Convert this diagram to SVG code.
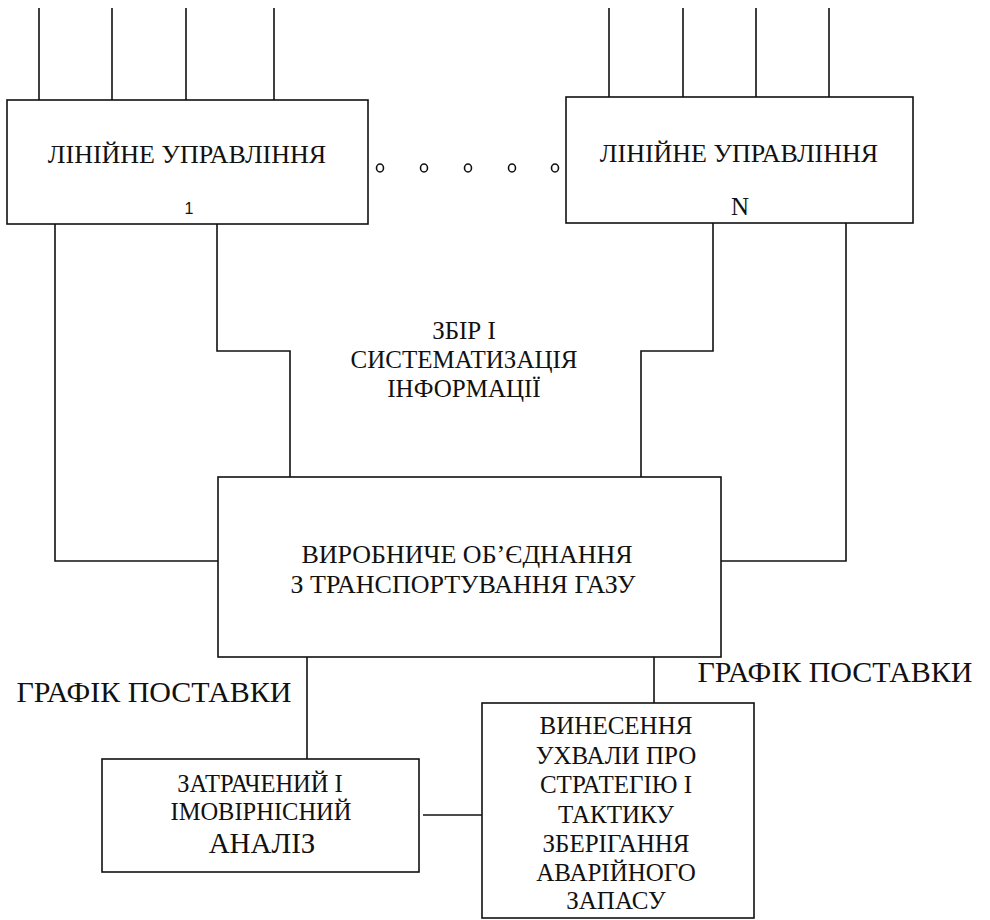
<svg xmlns="http://www.w3.org/2000/svg" width="990" height="920" viewBox="0 0 990 920">
  <style>
    .box { fill: #fff; stroke: #111; stroke-width: 1.6; }
    .wire { fill: none; stroke: #111; stroke-width: 1.6; }
    .dot { fill: none; stroke: #111; stroke-width: 1.6; }
    text { font-family: "Liberation Serif", "Times New Roman", serif; fill: #111; text-anchor: middle; }
    .t26 { font-size: 26px; }
    .t25 { font-size: 25px; }
    .t24 { font-size: 24.5px; }
    .t29 { font-size: 29px; }
    .t30 { font-size: 30px; }
    .num { font-family: "Liberation Sans", Arial, sans-serif; font-size: 16px; }
  </style>

  <!-- connectors -->
  <g id="connectors">
    <!-- inputs into the line administrations -->
    <path class="wire" d="M39 8V100 M112 8V100 M186 8V100 M274 8V100"/>
    <path class="wire" d="M609 8V97 M683 8V97 M756 8V97 M829 8V97"/>
    <!-- line administration 1 to the production association -->
    <path class="wire" d="M55 224V561H218"/>
    <path class="wire" d="M217 224V351H290V477"/>
    <!-- line administration N to the production association -->
    <path class="wire" d="M713 223V351H641V477"/>
    <path class="wire" d="M846 223V561H721"/>
    <!-- downstream -->
    <path class="wire" d="M307 657V759"/>
    <path class="wire" d="M654 657V703"/>
    <path class="wire" d="M423 815H482"/>
  </g>

  <!-- ellipsis between administrations -->
  <g id="ellipsis">
    <ellipse class="dot" cx="380" cy="168" rx="3.5" ry="4"/>
    <ellipse class="dot" cx="424" cy="168" rx="3.5" ry="4"/>
    <ellipse class="dot" cx="468" cy="168" rx="3.5" ry="4"/>
    <ellipse class="dot" cx="512" cy="168" rx="3.5" ry="4"/>
    <ellipse class="dot" cx="555" cy="168" rx="3.5" ry="4"/>
  </g>

  <g id="lu1">
    <rect class="box" x="7" y="100" width="361" height="124"/>
    <text class="t26" x="187" y="163">ЛІНІЙНЕ УПРАВЛІННЯ</text>
    <text class="num" x="189" y="214">1</text>
  </g>

  <g id="luN">
    <rect class="box" x="566" y="97" width="347" height="126"/>
    <text class="t26" x="739" y="162">ЛІНІЙНЕ УПРАВЛІННЯ</text>
    <text class="t25" x="740" y="215">N</text>
  </g>

  <g id="collect-label">
    <text class="t25" x="464" y="339">ЗБІР І</text>
    <text class="t25" x="464" y="368">СИСТЕМАТИЗАЦІЯ</text>
    <text class="t25" x="464" y="397">ІНФОРМАЦІЇ</text>
  </g>

  <g id="association">
    <rect class="box" x="218" y="477" width="503" height="180"/>
    <text class="t26" x="467" y="563">ВИРОБНИЧЕ ОБ’ЄДНАННЯ</text>
    <text class="t26" x="463" y="593">З ТРАНСПОРТУВАННЯ ГАЗУ</text>
  </g>

  <g id="schedule-left">
    <text class="t30" x="154" y="702">ГРАФІК ПОСТАВКИ</text>
  </g>
  <g id="schedule-right">
    <text class="t30" x="835" y="682">ГРАФІК ПОСТАВКИ</text>
  </g>

  <g id="analysis">
    <rect class="box" x="102" y="759" width="317" height="113"/>
    <text class="t24" x="260" y="792">ЗАТРАЧЕНИЙ І</text>
    <text class="t24" x="261" y="820">ІМОВІРНІСНИЙ</text>
    <text class="t29" x="262" y="853">АНАЛІЗ</text>
  </g>

  <g id="decision">
    <rect class="box" x="482" y="703" width="272" height="215"/>
    <text class="t25" x="616" y="734">ВИНЕСЕННЯ</text>
    <text class="t25" x="616" y="764">УХВАЛИ ПРО</text>
    <text class="t25" x="616" y="793">СТРАТЕГІЮ І</text>
    <text class="t25" x="616" y="823">ТАКТИКУ</text>
    <text class="t25" x="616" y="852">ЗБЕРІГАННЯ</text>
    <text class="t25" x="616" y="881">АВАРІЙНОГО</text>
    <text class="t25" x="616" y="909">ЗАПАСУ</text>
  </g>
</svg>
